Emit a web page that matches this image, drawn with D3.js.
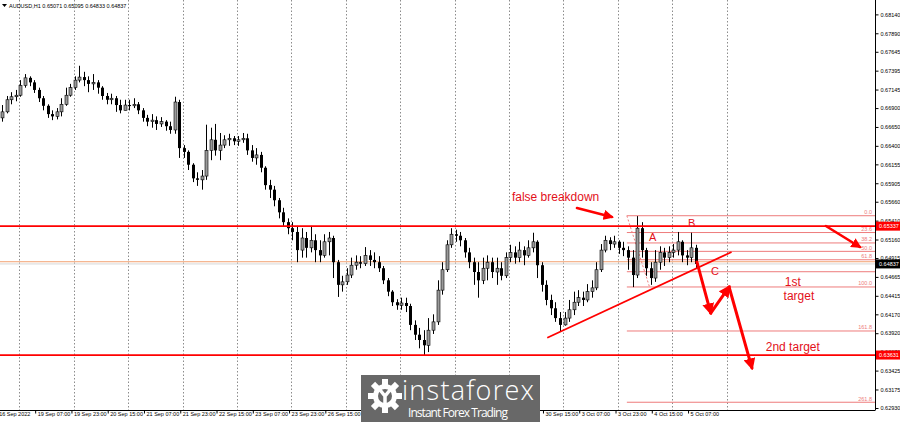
<!DOCTYPE html>
<html><head><meta charset="utf-8">
<script src="https://cdn.jsdelivr.net/npm/d3@7"></script>
<style>
html,body{margin:0;padding:0;background:#fff;}
svg{display:block;}
</style></head>
<body>
<svg id="c" width="900" height="422"></svg>
<script>
// ===== DATA =====
const symbolTitle = "AUDUSD,H1  0.65071 0.65095 0.64833 0.64837";
const firstOpen = 0.6677;
// 2-hour candles, from 16 Sep 2022 16:00 to 5 Oct 2022 10:00 (trading hours)
const close = [
0.6685,0.6701,0.6705,0.6707,
0.6720,0.6730,0.6724,0.6714,0.6703,0.6693,0.6682,0.6679,0.6685,0.6695,0.6707,0.6717,
0.6727,0.6731,0.6727,0.6722,0.6724,0.6717,0.6706,0.6701,0.6703,0.6694,0.6687,0.6694,
0.6693,0.6695,0.6687,0.6677,0.6672,0.6674,0.6669,0.6672,0.6666,0.6661,0.6698,0.6637,
0.6632,0.6615,0.6597,0.6595,0.6600,0.6634,0.6648,0.6634,0.6641,0.6648,0.6650,0.6646,
0.6648,0.6650,0.6634,0.6624,0.6628,0.6611,0.6588,0.6582,0.6568,0.6552,0.6539,0.6531,
0.6526,0.6502,0.6518,0.6505,0.6515,0.6502,0.6495,0.6513,0.6518,0.6486,0.6456,0.6460,
0.6469,0.6482,0.6486,0.6484,0.6495,0.6489,0.6486,0.6478,0.6462,0.6447,0.6433,0.6429,
0.6432,0.6428,0.6403,0.6390,0.6383,0.6376,0.6396,0.6407,0.6449,0.6476,0.6509,0.6523,
0.6521,0.6515,0.6499,0.6486,0.6473,0.6462,0.6478,0.6486,0.6473,0.6478,0.6468,0.6492,
0.6499,0.6492,0.6502,0.6495,0.6505,0.6513,0.6482,0.6456,0.6436,0.6425,0.6412,0.6403,
0.6412,0.6423,0.6433,0.6439,0.6436,0.6447,0.6452,0.6476,0.6502,0.6515,0.6510,0.6513,
0.6505,0.6502,0.6492,0.6469,0.6531,0.6502,0.6478,0.6465,0.6486,0.6499,0.6492,0.6499,
0.6502,0.6513,0.6495,0.6492,0.6505,0.64837];
const high = [
0.6694,0.6706,0.6711,0.6714,
0.6727,0.6735,0.6732,0.6727,0.6717,0.6706,0.6695,0.6687,0.6690,0.6703,0.6717,0.6722,
0.6732,0.6746,0.6738,0.6732,0.6735,0.6727,0.6719,0.6710,0.6709,0.6706,0.6701,0.6701,
0.6701,0.6703,0.6698,0.6690,0.6681,0.6682,0.6679,0.6678,0.6674,0.6672,0.6705,0.6701,
0.6641,0.6634,0.6617,0.6605,0.6608,0.6668,0.6664,0.6669,0.6657,0.6654,0.6656,0.6653,
0.6653,0.6657,0.6656,0.6641,0.6637,0.6632,0.6613,0.6595,0.6587,0.6571,0.6558,0.6544,
0.6539,0.6534,0.6531,0.6526,0.6534,0.6523,0.6515,0.6523,0.6526,0.6521,0.6489,0.6468,
0.6478,0.6492,0.6495,0.6494,0.6506,0.6502,0.6499,0.6494,0.6481,0.6465,0.6449,0.6437,
0.6439,0.6439,0.6431,0.6409,0.6399,0.6396,0.6412,0.6417,0.6462,0.6486,0.6515,0.6531,
0.6529,0.6526,0.6518,0.6505,0.6492,0.6486,0.6492,0.6495,0.6492,0.6492,0.6486,0.6499,
0.6509,0.6507,0.6513,0.6507,0.6515,0.6525,0.6515,0.6486,0.6462,0.6443,0.6433,0.6420,
0.6420,0.6436,0.6447,0.6449,0.6447,0.6457,0.6462,0.6486,0.6510,0.6521,0.6519,0.6521,
0.6515,0.6513,0.6507,0.6502,0.6547,0.6539,0.6505,0.6486,0.6502,0.6507,0.6505,0.6507,
0.6510,0.6526,0.6515,0.6502,0.6525,0.6509];
const low = [
0.6672,0.6683,0.6695,0.6699,
0.6705,0.6717,0.6719,0.6710,0.6698,0.6687,0.6677,0.6674,0.6675,0.6679,0.6693,0.6705,
0.6714,0.6724,0.6719,0.6711,0.6714,0.6709,0.6701,0.6695,0.6695,0.6685,0.6683,0.6687,
0.6687,0.6690,0.6682,0.6672,0.6666,0.6664,0.6661,0.6665,0.6660,0.6656,0.6656,0.6624,
0.6624,0.6608,0.6592,0.6587,0.6582,0.6595,0.6621,0.6627,0.6621,0.6637,0.6640,0.6641,
0.6640,0.6644,0.6628,0.6619,0.6615,0.6605,0.6582,0.6571,0.6560,0.6544,0.6534,0.6523,
0.6515,0.6486,0.6492,0.6492,0.6499,0.6486,0.6486,0.6492,0.6495,0.6465,0.6440,0.6447,
0.6456,0.6465,0.6476,0.6478,0.6481,0.6481,0.6478,0.6473,0.6457,0.6441,0.6428,0.6423,
0.6423,0.6420,0.6396,0.6383,0.6372,0.6363,0.6367,0.6391,0.6403,0.6443,0.6473,0.6505,
0.6513,0.6507,0.6492,0.6478,0.6456,0.6439,0.6457,0.6462,0.6465,0.6456,0.6462,0.6465,
0.6486,0.6484,0.6486,0.6482,0.6492,0.6499,0.6465,0.6447,0.6429,0.6416,0.6407,0.6394,
0.6402,0.6407,0.6416,0.6428,0.6428,0.6433,0.6439,0.6449,0.6473,0.6499,0.6502,0.6505,
0.6497,0.6494,0.6476,0.6453,0.6465,0.6492,0.6468,0.6456,0.6460,0.6476,0.6481,0.6486,
0.6492,0.6495,0.6486,0.6482,0.6486,0.6478];
const firstHour = -8;   // trading-hour index of first candle (0 = 19 Sep 00:00)
const candleHours = 2;

const priceTicks = [0.68140,0.67890,0.67645,0.67395,0.67145,0.66900,0.66650,0.66400,0.66155,0.65905,0.65660,0.65410,0.65160,0.64915,0.64665,0.64415,0.64170,0.63920,0.63670,0.63425,0.63175,0.62930];
// labels hidden behind the logo in the reference are not listed
const timeTickHours = [-10,7,23,39,55,71,87,103,119,135,231,247,263,279,295];
const timeTickLabels = ["16 Sep 2022","19 Sep 07:00","19 Sep 23:00","20 Sep 15:00","21 Sep 07:00","21 Sep 23:00","22 Sep 15:00","23 Sep 07:00","23 Sep 23:00","26 Sep 15:00","30 Sep 15:00","3 Oct 07:00","3 Oct 23:00","4 Oct 15:00","5 Oct 07:00"];
const dayGridHours = [0,24,48,72,96,120,144,168,192,216,240,264,288,312];

const resistanceLevel = 0.65337;
const supportLevel = 0.63631;
const orangeLevel = 0.64866;
const bidPrice = 0.64837;

const fibHigh = 0.65475, fibLow = 0.64532;
const fibLevels = [0, 23.6, 38.2, 50.0, 61.8, 78.6, 100.0, 161.8, 261.8];
const fibLabels = ["0.0","23.6","38.2","50.0","61.8","","100.0","161.8","261.8"];
const fibStartHour = 268, fibEndHour = 278;

const trendLine = [[232.9, 0.63860],[314.2, 0.64995]];
const arrowFalse = [[246.0, 0.65577],[261.4, 0.65458]];
const arrowDown1 = [[298.9, 0.64863],[305.0, 0.64187]];
const arrowUp = [[305.0, 0.64187],[313.1, 0.64532]];
const arrowDown2 = [[313.1, 0.64532],[323.2, 0.63459]];
const arrowTopRight = [[355.8, 0.65339],[370.8, 0.65061]];

const notes = [
  {t:"false breakdown", h:217.3, p:0.65723, size:12, anchor:"start"},
  {t:"A", h:279.4, p:0.65197, size:11, anchor:"middle"},
  {t:"B", h:296.6, p:0.65383, size:11, anchor:"middle"},
  {t:"C", h:306.9, p:0.64743, size:11, anchor:"middle"},
  {t:"1st", h:341.2, p:0.64598, size:12, anchor:"middle"},
  {t:"target", h:343.9, p:0.64412, size:12, anchor:"middle"},
  {t:"2nd target", h:341.2, p:0.63737, size:12, anchor:"middle"}
];

// ===== CHART =====
const svg = d3.select("#c");
const plotR = 875, plotB = 410;
const x = d3.scaleLinear().domain([0, 312]).range([19.3, 726.6]);
const y = d3.scaleLinear().domain([0.6293, 0.6814]).range([408, 408 - 0.0521*7555]);
const RED = "#ff0000", FIB = "#ee7b7b";

svg.append("defs").append("clipPath").attr("id","clip")
  .append("rect").attr("x",0).attr("y",0).attr("width",plotR).attr("height",plotB);
const plot = svg.append("g").attr("clip-path","url(#clip)");

// day grid
plot.selectAll("line.grid").data(dayGridHours).enter().append("line")
  .attr("x1",d=>Math.round(x(d))+0.5).attr("x2",d=>Math.round(x(d))+0.5)
  .attr("y1",0).attr("y2",plotB)
  .attr("stroke","#8c8c8c").attr("stroke-width",1).attr("stroke-dasharray","1.5,2");

// bid / orange lines
function hline(p, color, w){
  plot.append("line").attr("x1",0).attr("x2",plotR)
    .attr("y1",y(p)).attr("y2",y(p)).attr("stroke",color).attr("stroke-width",w);
}
hline(bidPrice, "#d8d8d8", 1);
hline(orangeLevel, "#f2a070", 1);

// fib
const fibPrice = lv => fibHigh - (fibHigh - fibLow) * lv / 100;
plot.selectAll("line.fib").data(fibLevels).enter().append("line")
  .attr("x1",x(fibStartHour)).attr("x2",plotR)
  .attr("y1",d=>y(fibPrice(d))).attr("y2",d=>y(fibPrice(d)))
  .attr("stroke",FIB).attr("stroke-width",1);
plot.selectAll("text.fib").data(fibLevels).enter().append("text")
  .attr("x",plotR-3).attr("y",d=>y(fibPrice(d))-1.5)
  .attr("text-anchor","end").attr("font-family","Liberation Sans, Arial, sans-serif")
  .attr("font-size",5.5).attr("fill",FIB).text((d,i)=>fibLabels[i]);
plot.append("line").attr("x1",x(fibStartHour)).attr("y1",y(fibHigh))
  .attr("x2",x(fibEndHour)).attr("y2",y(fibLow))
  .attr("stroke",FIB).attr("stroke-width",1).attr("stroke-dasharray","2,2");

// candles
const candles = close.map((c,i)=>{
  const o = i===0 ? firstOpen : close[i-1];
  return {h: firstHour + i*candleHours + 0.5, o, c,
          hi: Math.max(high[i], o, c), lo: Math.min(low[i], o, c)};
});
const cg = plot.append("g");
cg.selectAll("line.w").data(candles).enter().append("line")
  .attr("x1",d=>Math.round(x(d.h))+0.5).attr("x2",d=>Math.round(x(d.h))+0.5)
  .attr("y1",d=>y(d.hi)).attr("y2",d=>y(d.lo)).attr("stroke","#000").attr("stroke-width",1);
cg.selectAll("rect.b").data(candles).enter().append("rect")
  .attr("x",d=>Math.round(x(d.h))-1).attr("width",3)
  .attr("y",d=>y(Math.max(d.o,d.c))).attr("height",d=>Math.max(1, Math.abs(y(d.o)-y(d.c))))
  .attr("fill",d=>d.c>=d.o ? "#9a9a9a" : "#000")
  .attr("stroke",d=>d.c>=d.o ? "#000" : "none").attr("stroke-width",0.6);

// red levels
hline(resistanceLevel, RED, 1.8);
hline(supportLevel, RED, 1.8);

// trend line
const line = d3.line().x(d=>x(d[0])).y(d=>y(d[1]));
plot.append("path").attr("d",line(trendLine)).attr("stroke",RED).attr("stroke-width",1.8).attr("fill","none");

// arrows
const defs = svg.select("defs");
defs.append("marker").attr("id","ah").attr("viewBox","0 0 10 10").attr("refX",8).attr("refY",5)
  .attr("markerWidth",4).attr("markerHeight",4).attr("orient","auto-start-reverse").attr("markerUnits","strokeWidth")
  .append("path").attr("d","M0,0 L10,5 L0,10 Z").attr("fill",RED);
function arrow(pts, w, head=true){
  const p = plot.append("path").attr("d",line(pts)).attr("stroke",RED).attr("stroke-width",w)
    .attr("fill","none").attr("stroke-linecap","round");
  if(head) p.attr("marker-end","url(#ah)");
}
arrow(arrowFalse, 2.6);
arrow(arrowDown1, 3);
arrow(arrowUp, 3);
arrow(arrowDown2, 3);
arrow(arrowTopRight, 2.6);

// notes
plot.selectAll("text.note").data(notes).enter().append("text")
  .attr("x",d=>x(d.h)).attr("y",d=>y(d.p)).attr("dy","0.35em")
  .attr("text-anchor",d=>d.anchor)
  .attr("font-family","Liberation Sans, Arial, sans-serif").attr("font-size",d=>d.size)
  .attr("fill","#e3101a").text(d=>d.t);

// frame & axes
svg.append("line").attr("x1",plotR+0.5).attr("x2",plotR+0.5).attr("y1",0).attr("y2",plotB).attr("stroke","#000");
svg.append("line").attr("x1",0).attr("x2",plotR+0.5).attr("y1",plotB+0.5).attr("y2",plotB+0.5).attr("stroke","#000");

const yAxis = d3.axisRight(y).tickValues(priceTicks).tickSize(3).tickPadding(2).tickFormat(d3.format(".5f"));
const ya = svg.append("g").attr("transform",`translate(${plotR+0.5},0)`).call(yAxis);
ya.select(".domain").remove();
ya.selectAll("text").attr("font-family","Liberation Sans, Arial, sans-serif").attr("font-size",5.5).attr("fill","#000");

const xAxis = d3.axisBottom(x).tickValues(timeTickHours).tickSize(3).tickFormat((d,i)=>timeTickLabels[i]);
const xa = svg.append("g").attr("transform",`translate(0,${plotB+0.5})`).call(xAxis);
xa.select(".domain").remove();
xa.selectAll("text").attr("text-anchor","start").attr("dx",2).attr("dy","-0.1em")
  .attr("font-family","Liberation Sans, Arial, sans-serif").attr("font-size",5.5).attr("fill","#000");

// price labels
function priceTag(p, bg){
  const g = svg.append("g").attr("transform",`translate(${plotR+1},${y(p)})`);
  g.append("rect").attr("x",0).attr("y",-4.5).attr("width",25).attr("height",9).attr("fill",bg);
  g.append("text").attr("x",3).attr("y",0).attr("dy","0.35em")
    .attr("font-family","Liberation Sans, Arial, sans-serif").attr("font-size",5.5).attr("fill","#fff")
    .text(d3.format(".5f")(p));
}
priceTag(resistanceLevel, RED);
priceTag(supportLevel, RED);
priceTag(bidPrice, "#000");

// title
svg.append("path").attr("d","M2,4 L7,4 L4.5,7 Z").attr("fill","#000");
svg.append("text").attr("x",9).attr("y",7.5).attr("font-family","Liberation Sans, Arial, sans-serif")
  .attr("font-size",5.5).attr("fill","#000").text(symbolTitle);

// logo
const logo = svg.append("g").attr("transform","translate(361,375)");
logo.append("rect").attr("width",179).attr("height",47).attr("fill","#686868");
const gear = logo.append("g").attr("transform","translate(24,21)");
const teeth = d3.range(8);
gear.selectAll("rect").data(teeth).enter().append("rect")
  .attr("x",-3).attr("y",-17).attr("width",6).attr("height",7).attr("fill","#fff")
  .attr("transform",d=>`rotate(${d*45})`);
gear.append("circle").attr("r",12).attr("fill","#fff");
gear.append("circle").attr("r",7).attr("fill","#686868");
gear.append("path").attr("d","M-5,-6 L0,0 L5,-6 M0,0 L0,15").attr("stroke","#fff").attr("stroke-width",3.5).attr("fill","none");
logo.append("text").attr("x",41).attr("y",25).attr("font-family","Open Sans, Lato, sans-serif")
  .attr("font-weight",300).attr("font-size",27).attr("fill","#fff").attr("textLength",132).text("instaforex");
logo.append("text").attr("x",47).attr("y",42).attr("font-family","Open Sans, Lato, sans-serif")
  .attr("font-size",12).attr("fill","#fff").attr("textLength",100).text("Instant Forex Trading");
</script>
</body></html>
